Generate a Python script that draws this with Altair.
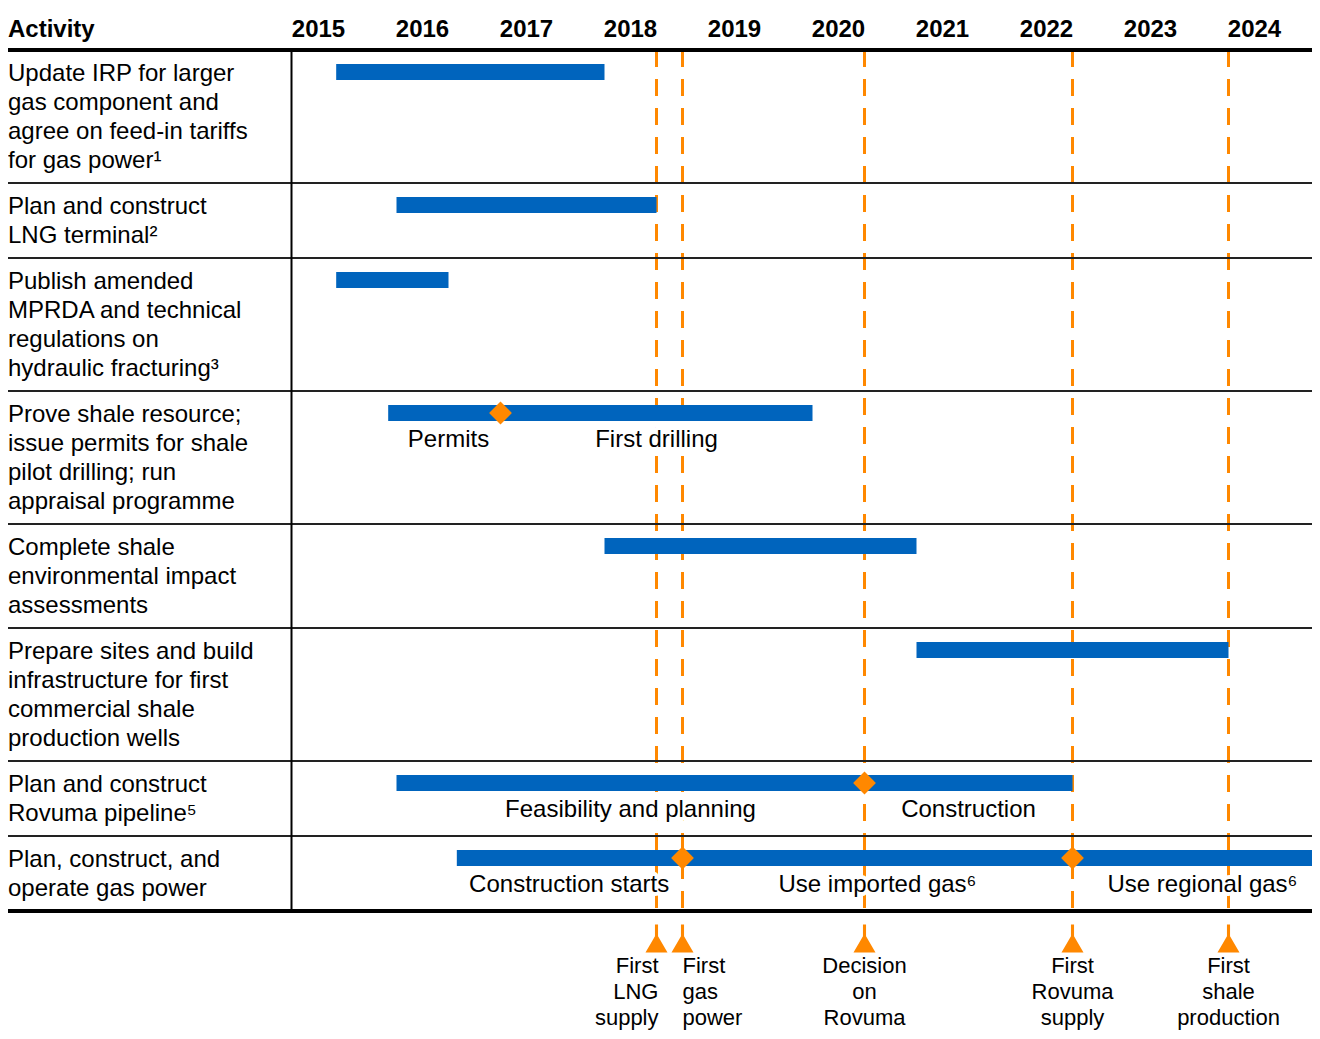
import altair as alt
import pandas as pd

# ---------------- data ----------------
years = list(range(2015, 2025))

activities = [
    "Update IRP for larger\ngas component and\nagree on feed-in tariffs\nfor gas power¹",
    "Plan and construct\nLNG terminal²",
    "Publish amended\nMPRDA and technical\nregulations on\nhydraulic fracturing³",
    "Prove shale resource;\nissue permits for shale\npilot drilling; run\nappraisal programme",
    "Complete shale\nenvironmental impact\nassessments",
    "Prepare sites and build\ninfrastructure for first\ncommercial shale\nproduction wells",
    "Plan and construct\nRovuma pipeline⁵",
    "Plan, construct, and\noperate gas power",
]
bar_start = [2015.17, 2015.75, 2015.17, 2015.67, 2017.75, 2020.75, 2015.75, 2016.33]
bar_end = [2017.75, 2018.25, 2016.25, 2019.75, 2020.75, 2023.75, 2022.25, 2024.7]

diamond_row = [3, 6, 7, 7]
diamond_year = [2016.75, 2020.25, 2018.5, 2022.25]

phase_row = [3, 3, 6, 6, 7, 7, 7]
phase_year = [2016.25, 2018.25, 2018.0, 2021.25, 2017.41, 2020.375, 2023.5]
phase_text = ["Permits", "First drilling", "Feasibility and planning", "Construction",
              "Construction starts", "Use imported gas⁶", "Use regional gas⁶"]

milestone_year = [2018.25, 2018.5, 2020.25, 2022.25, 2023.75]
milestone_text = ["First\nLNG\nsupply", "First\ngas\npower", "Decision\non\nRovuma",
                  "First\nRovuma\nsupply", "First\nshale\nproduction"]

# ---------------- layout ----------------
FONT = "Liberation Sans"
FS = 24
LINE = 29
BLUE = "#0064BD"
ORANGE = "#FF8800"
W, H = 1304, 1023
PX_PER_YEAR = 104.0
YEAR0_PX = 318.5          # page x of the 2015 label centre
LEFT_PX, RIGHT_PX = 8, 8 + W
XMIN = 2015 - (YEAR0_PX - LEFT_PX) / PX_PER_YEAR
XMAX = 2015 + (RIGHT_PX - YEAR0_PX) / PX_PER_YEAR
TABLE_TOP = 50
HEADER_Y = 30

X = alt.Scale(domain=[XMIN, XMAX], nice=False, zero=False)
Y = alt.Scale(domain=[8, 8 + H], reverse=True, nice=False, zero=False)

# row geometry computed from the number of text lines
tops = []
t = TABLE_TOP
for a in activities:
    tops.append(t)
    t += LINE * len(a.split("\n")) + 17
bottom = t

act_lines = []
for i, a in enumerate(activities):
    for j, ln in enumerate(a.split("\n")):
        act_lines.append({"y": tops[i] + 24 + j * LINE, "text": ln})
act_df = pd.DataFrame(act_lines)

bars_df = pd.DataFrame({
    "start": bar_start, "end": bar_end,
    "y0": [tp + 14 for tp in tops], "y1": [tp + 30 for tp in tops],
})
dia_df = pd.DataFrame({"x": diamond_year, "y": [tops[r] + 22 for r in diamond_row]})
phase_df = pd.DataFrame({"x": phase_year, "y": [tops[r] + 49 for r in phase_row],
                         "text": phase_text})

sep_df = pd.DataFrame({"y": tops[1:]})
thick_df = pd.DataFrame({"y": [TABLE_TOP, bottom]})

ms_df = pd.DataFrame({"x": milestone_year, "ya": TABLE_TOP, "yb": bottom - 1, "yt": bottom + 32})

# label alignment: crowded neighbours push labels apart
aligns = []
for k, yv in enumerate(milestone_year):
    prev_close = k > 0 and yv - milestone_year[k - 1] < 0.5
    next_close = k < len(milestone_year) - 1 and milestone_year[k + 1] - yv < 0.5
    aligns.append("right" if next_close else ("left" if prev_close else "center"))
MS_FS = 22
MS_LINE = 26
ms_lines = []
for k, txt in enumerate(milestone_text):
    for j, ln in enumerate(txt.split("\n")):
        ms_lines.append({"x": milestone_year[k], "y": bottom + 55 + j * MS_LINE,
                         "text": ln, "al": aligns[k]})
ms_lines_df = pd.DataFrame(ms_lines)

year_df = pd.DataFrame({"x": years, "text": [str(y) for y in years], "y": HEADER_Y})
head_df = pd.DataFrame({"text": ["Activity"], "y": [HEADER_Y]})

# ---------------- layers ----------------
dashes = alt.Chart(ms_df).mark_rule(color=ORANGE, strokeWidth=3, strokeDash=[17, 12]).encode(
    x=alt.X("x:Q", scale=X, axis=None),
    y=alt.Y("ya:Q", scale=Y, axis=None), y2="yb:Q")

bars = alt.Chart(bars_df).mark_bar(color=BLUE, clip=True).encode(
    x=alt.X("start:Q", scale=X, axis=None), x2="end:Q",
    y=alt.Y("y0:Q", scale=Y, axis=None), y2="y1:Q")

diamonds = alt.Chart(dia_df).mark_point(shape="diamond", size=520, filled=True,
                                        color=ORANGE, opacity=1, strokeWidth=0).encode(
    x=alt.X("x:Q", scale=X, axis=None), y=alt.Y("y:Q", scale=Y, axis=None))

phase_halo = alt.Chart(phase_df).mark_text(font=FONT, fontSize=FS, color="white", stroke="white",
                                           strokeWidth=8, strokeJoin="round",
                                           align="center", baseline="middle").encode(
    x=alt.X("x:Q", scale=X, axis=None), y=alt.Y("y:Q", scale=Y, axis=None), text="text:N")
phase_lbl = alt.Chart(phase_df).mark_text(font=FONT, fontSize=FS, color="black",
                                          align="center", baseline="middle").encode(
    x=alt.X("x:Q", scale=X, axis=None), y=alt.Y("y:Q", scale=Y, axis=None), text="text:N")

seps = alt.Chart(sep_df).mark_rule(color="#222222", strokeWidth=2).encode(
    x=alt.value(0), x2=alt.value(W), y=alt.Y("y:Q", scale=Y, axis=None))
thick = alt.Chart(thick_df).mark_rule(color="black", strokeWidth=4).encode(
    x=alt.value(0), x2=alt.value(W), y=alt.Y("y:Q", scale=Y, axis=None))
vsep = alt.Chart(pd.DataFrame({"ya": [TABLE_TOP], "yb": [bottom]})).mark_rule(
    color="black", strokeWidth=2).encode(
    x=alt.value(283.5), y=alt.Y("ya:Q", scale=Y, axis=None), y2="yb:Q")

act_txt = alt.Chart(act_df).mark_text(font=FONT, fontSize=FS, color="black",
                                      align="left", baseline="middle").encode(
    x=alt.value(0), y=alt.Y("y:Q", scale=Y, axis=None), text="text:N")

TRI = "M-0.14,-1.68L0.14,-1.68L0.14,-0.62L1,0.86L-1,0.86L-0.14,-0.62Z"
tris = alt.Chart(ms_df).mark_point(shape=TRI, size=484, filled=True, color=ORANGE,
                                   opacity=1, strokeWidth=0).encode(
    x=alt.X("x:Q", scale=X, axis=None), y=alt.Y("yt:Q", scale=Y, axis=None))

ms_layers = []
for al, dx in [("right", 2), ("left", 0), ("center", 0)]:
    ms_layers.append(
        alt.Chart(ms_lines_df).transform_filter(alt.datum.al == al).mark_text(
            font=FONT, fontSize=MS_FS, color="black", align=al, baseline="middle", dx=dx).encode(
            x=alt.X("x:Q", scale=X, axis=None), y=alt.Y("y:Q", scale=Y, axis=None), text="text:N"))

year_txt = alt.Chart(year_df).mark_text(font=FONT, fontSize=FS, fontWeight="bold", color="black",
                                        align="center", baseline="middle").encode(
    x=alt.X("x:Q", scale=X, axis=None), y=alt.Y("y:Q", scale=Y, axis=None), text="text:N")
head_txt = alt.Chart(head_df).mark_text(font=FONT, fontSize=FS, fontWeight="bold", color="black",
                                        align="left", baseline="middle").encode(
    x=alt.value(0), y=alt.Y("y:Q", scale=Y, axis=None), text="text:N")

chart = alt.layer(
    dashes, bars, diamonds, phase_halo, phase_lbl, seps, thick, vsep, act_txt, tris,
    *ms_layers, year_txt, head_txt
).properties(
    width=W, height=H, padding=0, autosize=alt.AutoSizeParams(type="none"),
    background="white"
).configure_view(stroke=None)

chart.save("out.html", embed_options={"renderer": "svg", "actions": False})
